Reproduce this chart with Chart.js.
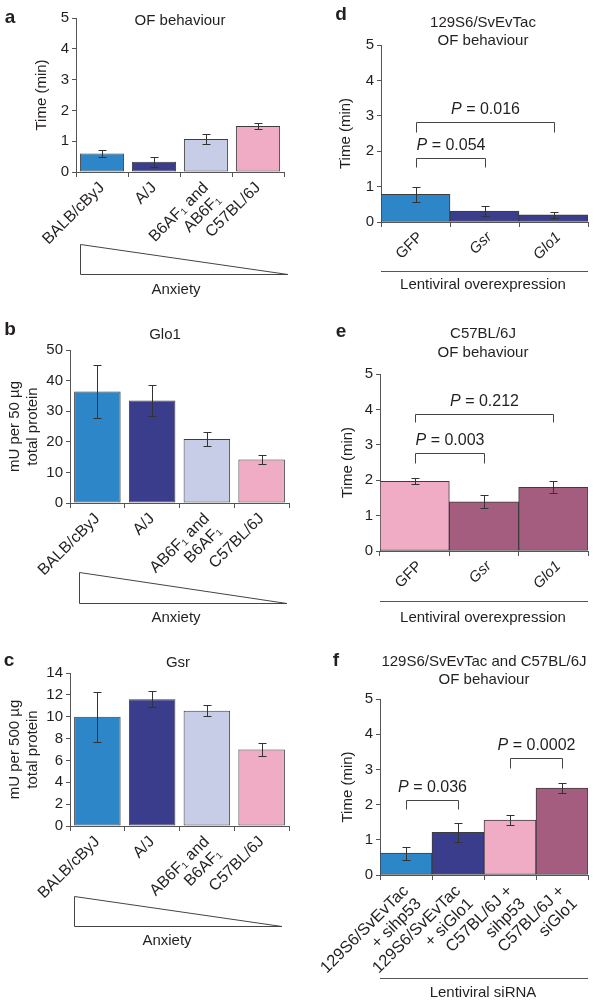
<!DOCTYPE html>
<html>
<head>
<meta charset="utf-8">
<script src="https://cdn.jsdelivr.net/npm/chart.js@4.4.1/dist/chart.umd.min.js"></script>
<style>
body { margin: 0; background: #fff; }
#fig { position: relative; width: 600px; height: 1006px; overflow: hidden; }
canvas { position: absolute; }
</style>
</head>
<body>
<div id="fig">
<canvas id="panelA" width="300" height="330" style="left:0;top:0"></canvas>
<canvas id="panelB" width="300" height="310" style="left:0;top:320px"></canvas>
<canvas id="panelC" width="300" height="386" style="left:0;top:620px"></canvas>
<canvas id="panelD" width="300" height="330" style="left:300px;top:0"></canvas>
<canvas id="panelE" width="300" height="310" style="left:300px;top:320px"></canvas>
<canvas id="panelF" width="300" height="386" style="left:300px;top:620px"></canvas>
</div>
<script>
// strains (a-c)
const ofStrains = ['BALB/cByJ', 'A/J', ['B6AF\u2081 and', 'AB6F\u2081'], 'C57BL/6J']
const enzymeStrains = ['BALB/cByJ', 'A/J', ['AB6F\u2081 and', 'B6AF\u2081'], 'C57BL/6J']

const ofTime = [0.6, 0.33, 1.07, 1.49]
const ofTimeErr = [0.12, 0.16, 0.16, 0.11]

const glo1Activity = [36.4, 33.5, 20.9, 14.2]
const glo1Err = [8.7, 5.0, 2.4, 1.6]

const gsrActivity = [10.0, 11.6, 10.55, 7.0]
const gsrErr = [2.3, 0.75, 0.53, 0.58]

// lentiviral overexpression (d, e)
const lentiLabels = ['GFP', 'Gsr', 'Glo1']
const svevTime = [0.78, 0.31, 0.2]
const svevErr = [0.22, 0.15, 0.09]
const b6Time = [1.97, 1.39, 1.8]
const b6Err = [0.09, 0.18, 0.17]

// lentiviral siRNA (f)
const sirnaLabels = [['129S6/SvEvTac', '+ sihp53'], ['129S6/SvEvTac', '+ siGlo1'], ['C57BL/6J +', 'sihp53'], ['C57BL/6J +', 'siGlo1']]
const sirnaTime = [0.62, 1.21, 1.56, 2.47]
const sirnaErr = [0.18, 0.27, 0.15, 0.14]

// P value brackets: bars compared, bracket level and leg end (axis units)
const svevP = [
  {from: 0, to: 2, level: 2.82, leg: 2.55, p: '0.016'},
  {from: 0, to: 1, level: 1.8, leg: 1.54, p: '0.054'}
]
const b6P = [
  {from: 0, to: 2, level: 3.88, leg: 3.63, p: '0.212'},
  {from: 0, to: 1, level: 2.78, leg: 2.5, p: '0.003'}
]
const sirnaP = [
  {from: 0, to: 1, level: 2.13, leg: 1.88, p: '0.036'},
  {from: 2, to: 3, level: 3.32, leg: 3.05, p: '0.0002'}
]

const BLUE = '#2c86c8', NAVY = '#3a3c8c', LAVENDER = '#c8cde7', PINK = '#f0abc5', MAUVE = '#a45c7f'
const INK = '#231f20'
const FONT = '"Liberation Sans", Arial, sans-serif'

Chart.defaults.font.family = FONT
Chart.defaults.color = INK

function decor(cfg) {
  return {
    id: 'decor',
    afterDatasetsDraw(chart) {
      const ctx = chart.ctx
      const y = chart.scales.y
      const bars = chart.getDatasetMeta(0).data
      ctx.save()
      ctx.strokeStyle = '#333'
      ctx.lineWidth = 1
      cfg.values.forEach((v, i) => {
        const bx = Math.round(bars[i].x) + 0.5
        const hi = Math.round(y.getPixelForValue(v + cfg.errs[i])) + 0.5
        const lo = Math.round(y.getPixelForValue(v - cfg.errs[i])) + 0.5
        ctx.beginPath()
        ctx.moveTo(bx, hi); ctx.lineTo(bx, lo)
        ctx.moveTo(bx - 4, hi); ctx.lineTo(bx + 4, hi)
        ctx.moveTo(bx - 4, lo); ctx.lineTo(bx + 4, lo)
        ctx.stroke()
      })
      ctx.restore()
    },
    afterDraw(chart) {
      const ctx = chart.ctx
      const y = chart.scales.y
      const bars = chart.getDatasetMeta(0).data
      ctx.save()
      ctx.fillStyle = INK
      ctx.strokeStyle = '#444'
      ctx.lineWidth = 1
      ctx.textBaseline = 'middle'

      // panel letter
      ctx.font = 'bold 19px ' + FONT
      ctx.textAlign = 'center'
      ctx.fillText(cfg.letter, cfg.letterAt[0], cfg.letterAt[1])

      // title
      ctx.font = '15px ' + FONT
      cfg.title.forEach((t, i) => ctx.fillText(t, cfg.titleX, cfg.titleY[i]))

      // anxiety wedge
      if (cfg.wedge) {
        const w = cfg.wedge
        ctx.beginPath()
        ctx.moveTo(w.x0 + 0.5, w.top + 0.5)
        ctx.lineTo(w.x0 + 0.5, w.bottom + 0.5)
        ctx.lineTo(w.x1, w.bottom + 0.5)
        ctx.closePath()
        ctx.stroke()
        ctx.fillText('Anxiety', w.textX, w.textY)
      }

      // under-axis rule
      if (cfg.rule) {
        const r = cfg.rule
        ctx.strokeStyle = '#555'
        ctx.beginPath()
        ctx.moveTo(chart.chartArea.left, r.y + 0.5)
        ctx.lineTo(chart.chartArea.right, r.y + 0.5)
        ctx.stroke()
        ctx.fillText(r.text, r.textX, r.textY)
      }

      // P value brackets
      ctx.strokeStyle = '#444'
      ;(cfg.brackets || []).forEach(b => {
        const x1 = Math.round(bars[b.from].x) + 0.5
        const x2 = Math.round(bars[b.to].x) + 0.5
        const yl = Math.round(y.getPixelForValue(b.level)) + 0.5
        const yb = Math.round(y.getPixelForValue(b.leg)) + 0.5
        ctx.beginPath()
        ctx.moveTo(x1, yb); ctx.lineTo(x1, yl); ctx.lineTo(x2, yl); ctx.lineTo(x2, yb)
        ctx.stroke()
        const rest = ' = ' + b.p
        ctx.font = 'italic 16px ' + FONT
        const wP = ctx.measureText('P').width
        ctx.font = '16px ' + FONT
        const wR = ctx.measureText(rest).width
        const sx = (x1 + x2) / 2 - (wP + wR) / 2
        ctx.textAlign = 'left'
        ctx.font = 'italic 16px ' + FONT
        ctx.fillText('P', sx, yl - 13)
        ctx.font = '16px ' + FONT
        ctx.fillText(rest, sx + wP, yl - 13)
        ctx.textAlign = 'center'
      })
      ctx.restore()
    }
  }
}

function makePanel(id, cfg) {
  const canvas = document.getElementById(id)
  const W = canvas.width, H = canvas.height
  const a = cfg.area
  return new Chart(canvas, {
    type: 'bar',
    data: {
      labels: cfg.labels,
      datasets: [{
        data: cfg.values,
        backgroundColor: cfg.colors,
        borderColor: '#3d3d3d',
        borderWidth: 1,
        borderSkipped: false,
        barPercentage: cfg.barPct,
        categoryPercentage: 1
      }]
    },
    options: {
      responsive: false,
      animation: false,
      layout: {padding: {left: cfg.padLeft, top: a.top, right: W - a.right, bottom: 0}},
      plugins: {legend: {display: false}, tooltip: {enabled: false}},
      scales: {
        x: {
          grid: {offset: true, drawOnChartArea: false, tickLength: 5, color: '#555'},
          border: {color: '#555'},
          ticks: {
            autoSkip: false, minRotation: 45, maxRotation: 45, padding: 2, color: INK,
            labelOffset: cfg.labelShift || 0,
            font: c => ({size: cfg.xFont, style: cfg.italic && cfg.italic[c.index] ? 'italic' : 'normal', lineHeight: 1.1})
          },
          afterFit: s => { s.height = H - a.bottom; s.paddingLeft = 0; s.paddingRight = 0 }
        },
        y: {
          min: 0, max: cfg.max,
          grid: {drawOnChartArea: false, tickLength: 4, color: '#555'},
          border: {color: '#555'},
          ticks: {
            stepSize: cfg.step, padding: 3, color: INK, font: {size: 15},
            callback: v => (cfg.labelEvery && v % cfg.labelEvery !== 0) ? '' : v
          },
          title: {display: true, text: cfg.yTitle, color: INK, font: {size: 15, lineHeight: 1.2}, padding: {top: cfg.titlePad, bottom: 0}},
          afterFit: s => { s.width = a.left - cfg.padLeft; s.paddingTop = 0; s.paddingBottom = 0 }
        }
      }
    },
    plugins: [decor(cfg)]
  })
}

const strainColors = [BLUE, NAVY, LAVENDER, PINK]

makePanel('panelA', {
  labels: ofStrains, values: ofTime, errs: ofTimeErr, colors: strainColors, barPct: 0.85,
  area: {left: 76, top: 18, right: 284, bottom: 172}, padLeft: 25, titlePad: 8,
  max: 5, step: 1, yTitle: 'Time (min)', xFont: 16,
  letter: 'a', letterAt: [10, 18], title: ['OF behaviour'], titleX: 180, titleY: [21],
  wedge: {x0: 80, x1: 288, top: 244, bottom: 274, textX: 176, textY: 290}
})

makePanel('panelB', {
  labels: enzymeStrains, values: glo1Activity, errs: glo1Err, colors: strainColors, barPct: 0.85,
  area: {left: 70, top: 30, right: 289, bottom: 183}, padLeft: 0, titlePad: 6,
  max: 50, step: 5, labelEvery: 10, yTitle: ['mU per 50 \u00b5g', 'total protein'], xFont: 16,
  letter: 'b', letterAt: [10, 10], title: ['Glo1'], titleX: 165, titleY: [15],
  wedge: {x0: 79, x1: 287, top: 252, bottom: 283, textX: 176, textY: 298}
})

makePanel('panelC', {
  labels: enzymeStrains, values: gsrActivity, errs: gsrErr, colors: strainColors, barPct: 0.85,
  area: {left: 70, top: 53, right: 289, bottom: 206}, padLeft: 0, titlePad: 6,
  max: 14, step: 2, yTitle: ['mU per 500 \u00b5g', 'total protein'], xFont: 16,
  letter: 'c', letterAt: [9, 41], title: ['Gsr'], titleX: 178, titleY: [43],
  wedge: {x0: 74, x1: 282, top: 276, bottom: 306, textX: 167, textY: 321}
})

makePanel('panelD', {
  labels: lentiLabels, values: svevTime, errs: svevErr, colors: [BLUE, NAVY, NAVY], barPct: 1,
  italic: [false, true, true], labelShift: 5,
  area: {left: 81, top: 45, right: 288, bottom: 222}, padLeft: 29, titlePad: 8,
  max: 5, step: 1, yTitle: 'Time (min)', xFont: 15,
  letter: 'd', letterAt: [41, 15], title: ['129S6/SvEvTac', 'OF behaviour'], titleX: 183, titleY: [22.5, 41],
  rule: {y: 271, text: 'Lentiviral overexpression', textX: 183, textY: 285},
  brackets: svevP
})

makePanel('panelE', {
  labels: lentiLabels, values: b6Time, errs: b6Err, colors: [PINK, MAUVE, MAUVE], barPct: 1,
  italic: [false, true, true], labelShift: 5,
  area: {left: 80, top: 54, right: 288, bottom: 231}, padLeft: 31, titlePad: 8,
  max: 5, step: 1, yTitle: 'Time (min)', xFont: 15,
  letter: 'e', letterAt: [41, 12], title: ['C57BL/6J', 'OF behaviour'], titleX: 183, titleY: [14, 32.5],
  rule: {y: 281, text: 'Lentiviral overexpression', textX: 183, textY: 298},
  brackets: b6P
})

makePanel('panelF', {
  labels: sirnaLabels, values: sirnaTime, errs: sirnaErr, colors: [BLUE, NAVY, PINK, MAUVE], barPct: 1,
  area: {left: 80, top: 79, right: 288, bottom: 255}, padLeft: 31, titlePad: 8,
  max: 5, step: 1, yTitle: 'Time (min)', xFont: 16.5,
  letter: 'f', letterAt: [36, 41], title: ['129S6/SvEvTac and C57BL/6J', 'OF behaviour'], titleX: 184, titleY: [41.5, 60],
  rule: {y: 358, text: 'Lentiviral siRNA', textX: 183, textY: 373},
  brackets: sirnaP
})
</script>
</body>
</html>
